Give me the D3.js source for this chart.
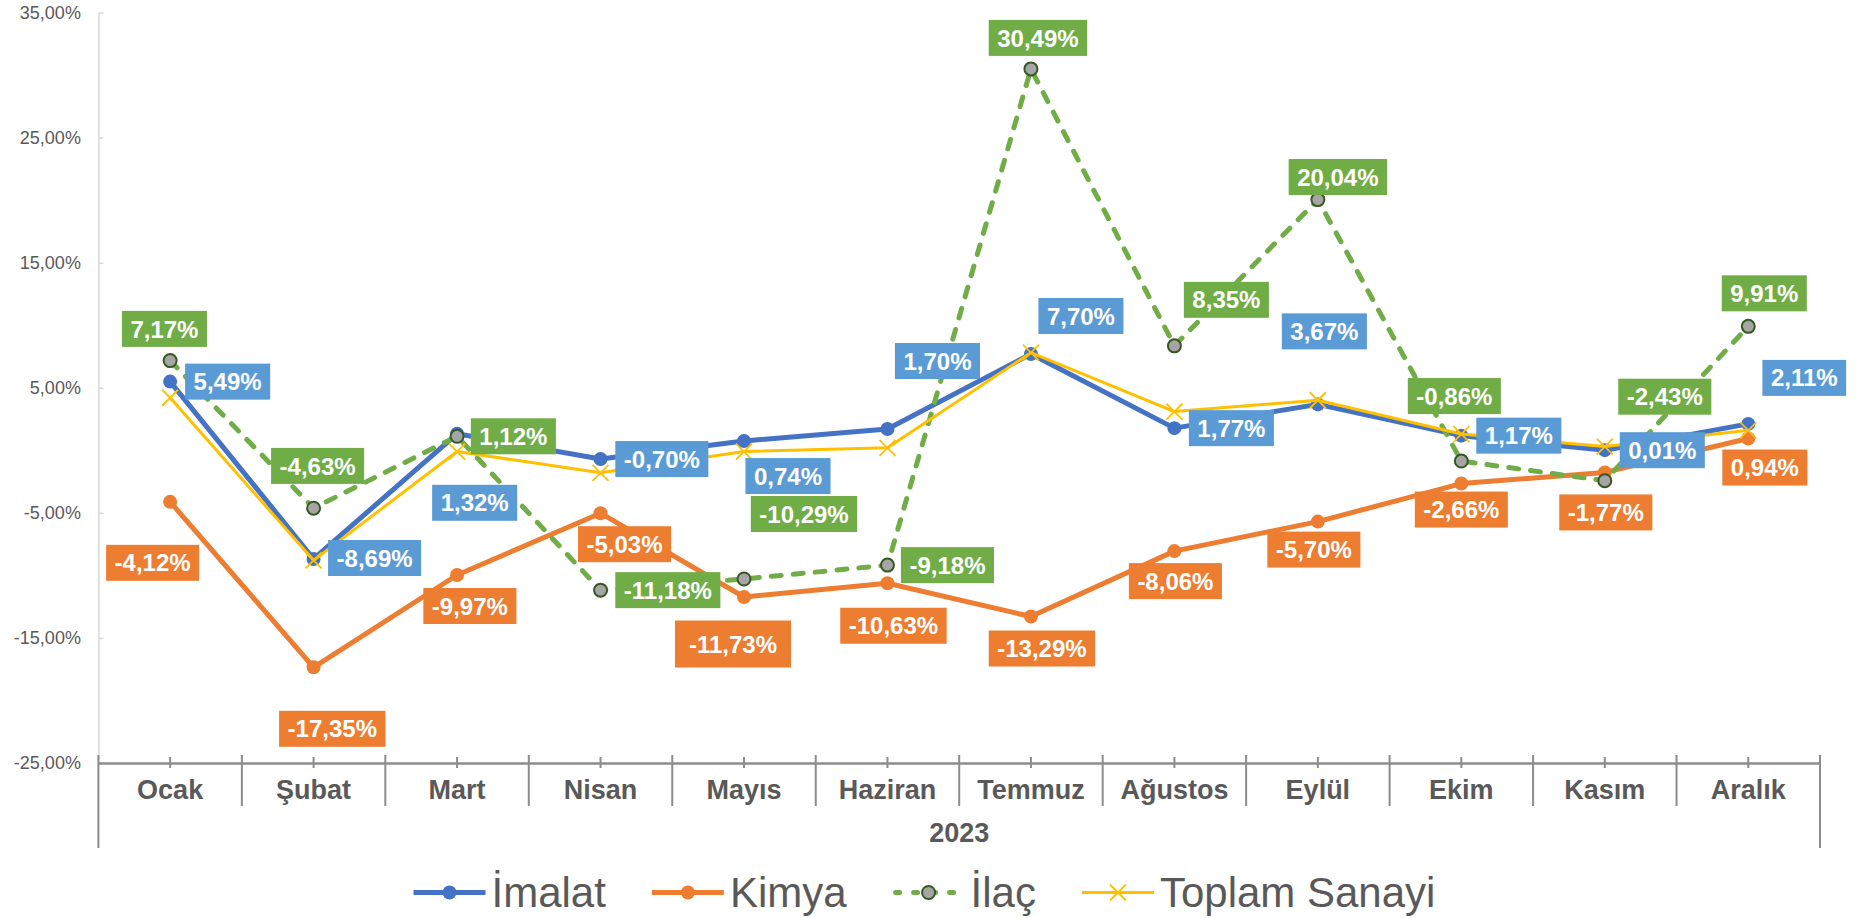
<!DOCTYPE html>
<html lang="tr">
<head>
<meta charset="UTF-8">
<title>İmalat, Kimya, İlaç - 2023</title>
<script src="https://d3js.org/d3.v7.min.js"></script>
<style>
  body { margin: 0; background: #fff; }
  svg text { font-family: "Liberation Sans", Arial, sans-serif; }
</style>
</head>
<body>
<svg width="1859" height="918"></svg>
<script>
    // data (monthly change, %)
    const months = ["Ocak", "Şubat", "Mart", "Nisan", "Mayıs", "Haziran", "Temmuz", "Ağustos", "Eylül", "Ekim", "Kasım", "Aralık"];
    const yearLabel = "2023";
    const imalat = [5.49, -8.69, 1.32, -0.70, 0.74, 1.70, 7.70, 1.77, 3.67, 1.17, 0.01, 2.11];
    const kimya = [-4.12, -17.35, -9.97, -5.03, -11.73, -10.63, -13.29, -8.06, -5.70, -2.66, -1.77, 0.94];
    const ilac = [7.17, -4.63, 1.12, -11.18, -10.29, -9.18, 30.49, 8.35, 20.04, -0.86, -2.43, 9.91];
    const toplam = [4.2, -8.8, -0.1, -1.8, -0.1, 0.2, 7.8, 3.1, 4.0, 1.3, 0.3, 1.6];
    const yTicks = [-25, -15, -5, 5, 15, 25, 35];

    const svg = d3.select("svg");
    const plotLeft = 98.4, plotRight = 1820, plotTop = 12.5, plotBottom = 763;
    const grey = "#595959";

    const x = d3.scaleBand().domain(months).range([plotLeft, plotRight]);
    const y = d3.scaleLinear().domain([-25, 35]).range([plotBottom, plotTop]);
    const cx = m => x(m) + x.bandwidth() / 2;

    const tr = d3.formatLocale({decimal: ",", thousands: ".", grouping: [3], currency: ["", "₺"], minus: "-"});
    const fmt = v => tr.format(".2f")(v) + "%";

    // y axis
    const yAxis = svg.append("g")
        .attr("transform", `translate(${plotLeft},0)`)
        .call(d3.axisLeft(y).tickValues(yTicks).tickFormat(fmt).tickSizeInner(-5).tickSizeOuter(0).tickPadding(17.5));
    yAxis.select(".domain").attr("stroke", "#d9d9d9").attr("stroke-width", 1.5);
    yAxis.selectAll(".tick line").attr("stroke", "#d9d9d9").attr("stroke-width", 1.5);
    yAxis.selectAll(".tick text").attr("fill", grey).attr("font-size", 18)
        .attr("font-family", '"Liberation Sans", Arial, sans-serif');

    // x axis (category axis with group label)
    const xAxis = svg.append("g")
        .attr("transform", `translate(0,${plotBottom})`)
        .call(d3.axisBottom(x).tickSizeInner(5).tickSizeOuter(0).tickPadding(0));
    xAxis.select(".domain").attr("stroke", "#8c8c8c").attr("stroke-width", 2.5);
    xAxis.selectAll(".tick line").attr("stroke", "#8c8c8c").attr("stroke-width", 2).attr("y1", -6);
    xAxis.selectAll(".tick text")
        .attr("fill", grey).attr("font-size", 27).attr("font-weight", "bold")
        .attr("font-family", '"Liberation Sans", Arial, sans-serif')
        .attr("y", 36).attr("dy", null);

    const edges = months.map(m => x(m)).concat([plotRight]);
    svg.append("g").selectAll("line").data(edges).join("line")
        .attr("x1", d => d).attr("x2", d => d)
        .attr("y1", plotBottom - 8)
        .attr("y2", (d, i) => (i === 0 || i === edges.length - 1) ? 848 : 806)
        .attr("stroke", "#8c8c8c").attr("stroke-width", 2);

    svg.append("text")
        .attr("x", (plotLeft + plotRight) / 2).attr("y", 841.5)
        .attr("text-anchor", "middle").attr("font-size", 27).attr("font-weight", "bold")
        .attr("fill", grey).text(yearLabel);

    // series
    const xMark = "M-8,-8L8,8M-8,8L8,-8";
    const series = [
        {name: "İmalat", values: imalat, color: "#4472c4", width: 5, dash: null, marker: "dot", label: "#5b9bd5"},
        {name: "Kimya", values: kimya, color: "#ed7d31", width: 5, dash: null, marker: "dot", label: "#ed7d31"},
        {name: "İlaç", values: ilac, color: "#70ad47", width: 5, dash: "10 12", marker: "grey", label: "#70ad47"},
        {name: "Toplam Sanayi", values: toplam, color: "#ffc000", width: 3, dash: null, marker: "x", label: null}
    ];

    const line = d3.line().x((d, i) => cx(months[i])).y(d => y(d));

    function drawMarker(g, s, px, py) {
        if (s.marker === "dot") {
            g.append("circle").attr("cx", px).attr("cy", py).attr("r", 7).attr("fill", s.color);
        } else if (s.marker === "grey") {
            g.append("circle").attr("cx", px).attr("cy", py).attr("r", 6.5)
                .attr("fill", "#a5a5a5").attr("stroke", "#385723").attr("stroke-width", 2);
        } else {
            g.append("path").attr("d", xMark).attr("transform", `translate(${px},${py})`)
                .attr("fill", "none").attr("stroke", s.color).attr("stroke-width", 1.8);
        }
    }

    series.forEach(s => {
        const g = svg.append("g");
        g.append("path").datum(s.values)
            .attr("d", line)
            .attr("fill", "none")
            .attr("stroke", s.color)
            .attr("stroke-width", s.width)
            .attr("stroke-linejoin", "round")
            .attr("stroke-linecap", s.dash ? "round" : "butt")
            .attr("stroke-dasharray", s.dash);
        s.values.forEach((v, i) => drawMarker(g, s, cx(months[i]), y(v)));
    });

    // data label placement: box centre offset from its point
    const labelOffsets = {
        "İmalat": [[57.5, 0], [61, -1], [17.6, 69], [61.3, 0], [44, 35], [50, -68], [50, -38], [57, 0], [6.5, -73], [57.5, 0], [57.5, 0], [56, -46]],
        "Kimya": [[-17.5, 61], [18.7, 61.5], [12.8, 31], [24, 31], [-11, 47], [6, 42.5], [11, 32], [1, 30], [-4, 28], [0, 26], [1, 40], [16.6, 29]],
        "İlaç": [[-5.7, -31.7], [4, -42.3], [56.3, 0], [67.3, 0], [60, -65], [60, 0], [7, -31], [52, -46], [20, -22.6], [-7, -65], [60, -84], [16, -33]]
    };
    const bigLabel = {"Kimya": 4};

    series.filter(s => s.label).forEach(s => {
        const g = svg.append("g");
        s.values.forEach((v, i) => {
            const off = labelOffsets[s.name][i];
            const lx = cx(months[i]) + off[0], ly = y(v) + off[1];
            const big = bigLabel[s.name] === i;
            const lg = g.append("g");
            const rect = lg.append("rect").attr("fill", s.label);
            const t = lg.append("text")
                .attr("x", lx).attr("y", ly + 8.6)
                .attr("text-anchor", "middle")
                .attr("font-size", 24).attr("font-weight", "bold")
                .attr("fill", "#fff").text(fmt(v));
            const w = t.node().getComputedTextLength() + (big ? 28 : 17);
            const h = big ? 47 : 36;
            rect.attr("x", lx - w / 2).attr("y", ly - h / 2).attr("width", w).attr("height", h);
        });
    });

    // legend
    const legend = svg.append("g");
    let legX = 413.5;
    const legY = 892.5;
    series.forEach(s => {
        legend.append("line")
            .attr("x1", legX).attr("x2", legX + 72).attr("y1", legY).attr("y2", legY)
            .attr("stroke", s.color).attr("stroke-width", s.width)
            .attr("stroke-linecap", s.dash ? "round" : "butt")
            .attr("stroke-dasharray", s.dash ? "4 14" : null)
            .attr("stroke-dashoffset", s.dash ? -3 : null);
        drawMarker(legend, s, legX + 36, legY);
        const t = legend.append("text")
            .attr("x", legX + 78).attr("y", 907.3)
            .attr("font-size", 42).attr("fill", grey).text(s.name);
        legX += 78 + t.node().getComputedTextLength() + 46;
    });
</script>
</body>
</html>
